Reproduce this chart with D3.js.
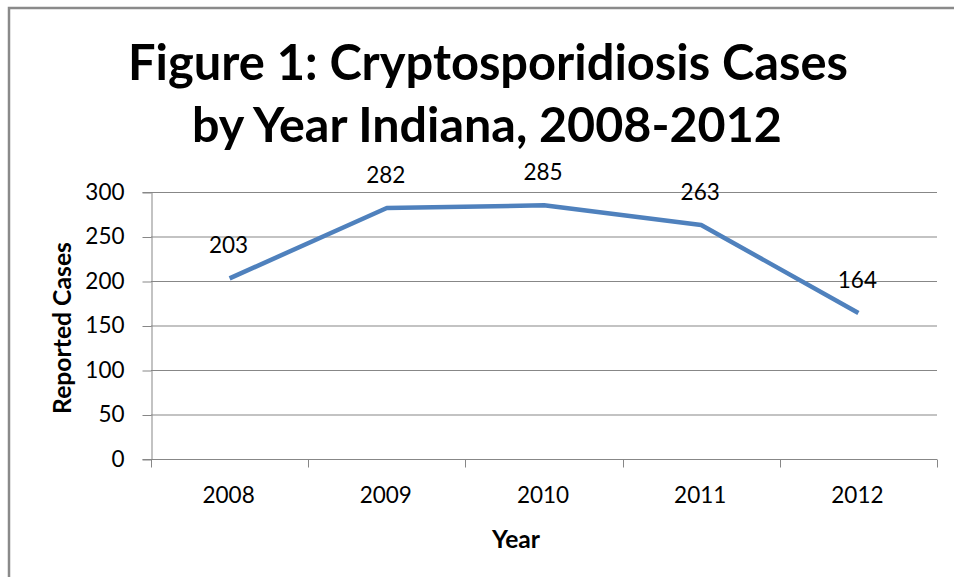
<!DOCTYPE html>
<html>
<head>
<meta charset="utf-8">
<script src="https://cdn.jsdelivr.net/npm/d3@7/dist/d3.min.js"></script>
<style>
  html, body { margin: 0; padding: 0; background: #fff; }
  svg { display: block; }
  text { font-family: Lato, "Open Sans", sans-serif; fill: #000; }
</style>
</head>
<body>
<svg id="chart" width="954" height="577"></svg>
<script>
const years = ["2008", "2009", "2010", "2011", "2012"];
const cases = [203, 282, 285, 263, 164];
const yTicks = [0, 50, 100, 150, 200, 250, 300];
const titleLines = ["Figure 1: Cryptosporidiosis Cases", "by Year Indiana, 2008-2012"];
const xTitle = "Year";
const yTitle = "Reported Cases";

const svg = d3.select("#chart");
const W = 954, H = 577;
const plot = { left: 151, right: 937, top: 192, bottom: 459 };

// outer border
svg.append("rect")
  .attr("x", 9).attr("y", 8)
  .attr("width", W + 10).attr("height", H + 10)
  .attr("fill", "none").attr("stroke", "#8a8a8a").attr("stroke-width", 2.5);

const x = d3.scaleBand().domain(years).range([plot.left, plot.right]).paddingInner(0).paddingOuter(0);
const y = d3.scaleLinear().domain([0, 300]).range([plot.bottom, plot.top]);

// gridlines
svg.append("g").selectAll("line").data(yTicks.filter(d => d > 0)).join("line")
  .attr("x1", plot.left).attr("x2", plot.right)
  .attr("y1", d => y(d) + 0.5).attr("y2", d => y(d) + 0.5)
  .attr("stroke", "#878787").attr("stroke-width", 1);

// y axis
const yAxis = svg.append("g").attr("transform", `translate(${plot.left + 0.5},0)`)
  .call(d3.axisLeft(y).tickValues(yTicks).tickSize(9).tickPadding(18));
yAxis.select(".domain").attr("stroke", "#878787");
yAxis.selectAll(".tick line").attr("stroke", "#878787").attr("transform", "translate(0,0.5)");
yAxis.selectAll(".tick text").attr("font-size", 22.5).attr("font-family", "Lato").attr("fill", "#000");

// x axis
const xAxisG = svg.append("g").attr("transform", `translate(0,${plot.bottom + 0.5})`);
xAxisG.append("line").attr("x1", plot.left).attr("x2", plot.right).attr("stroke", "#878787");
const boundaries = years.map(d => x(d)).concat([x(years[years.length - 1]) + x.bandwidth()]);
xAxisG.selectAll("line.tk").data(boundaries).join("line").attr("class", "tk")
  .attr("x1", d => Math.round(d) + 0.5).attr("x2", d => Math.round(d) + 0.5)
  .attr("y1", 0).attr("y2", 8).attr("stroke", "#878787");
xAxisG.selectAll("text").data(years).join("text")
  .attr("x", d => x(d) + x.bandwidth() / 2 - 1)
  .attr("y", 43)
  .attr("text-anchor", "middle").attr("font-size", 22.5)
  .text(d => d);

// line
const line = d3.line().x((d, i) => x(years[i]) + x.bandwidth() / 2).y(d => y(d));
svg.append("path").datum(cases)
  .attr("d", line).attr("fill", "none")
  .attr("stroke", "#4f81bd").attr("stroke-width", 4.5)
  .attr("stroke-linejoin", "round").attr("stroke-linecap", "butt");

// data labels
svg.append("g").selectAll("text").data(cases).join("text")
  .attr("x", (d, i) => x(years[i]) + x.bandwidth() / 2 - 1)
  .attr("y", d => y(d) - 25)
  .attr("text-anchor", "middle").attr("font-size", 22.5)
  .text(d => d);

// text fitted to a target width
function fitText(el, base, w) {
  const len = el.node().getComputedTextLength();
  el.attr("font-size", base * w / len);
}

// title
const titleSpecs = [{ cx: 488, y: 80, w: 720 }, { cx: 487, y: 142, w: 590 }];
titleLines.forEach((t, i) => {
  const s = titleSpecs[i];
  const el = svg.append("text")
    .attr("x", s.cx).attr("y", s.y)
    .attr("text-anchor", "middle")
    .attr("font-weight", "bold").attr("font-size", 50)
    .text(t);
  fitText(el, 50, s.w);
});

// axis titles
const xt = svg.append("text").attr("x", 516).attr("y", 548)
  .attr("text-anchor", "middle").attr("font-weight", "bold").attr("font-size", 22)
  .text(xTitle);
fitText(xt, 22, 48);
const yt = svg.append("text").attr("transform", "translate(71,328) rotate(-90)")
  .attr("text-anchor", "middle").attr("font-weight", "bold").attr("font-size", 22)
  .text(yTitle);
fitText(yt, 22, 172);
</script>
</body>
</html>
